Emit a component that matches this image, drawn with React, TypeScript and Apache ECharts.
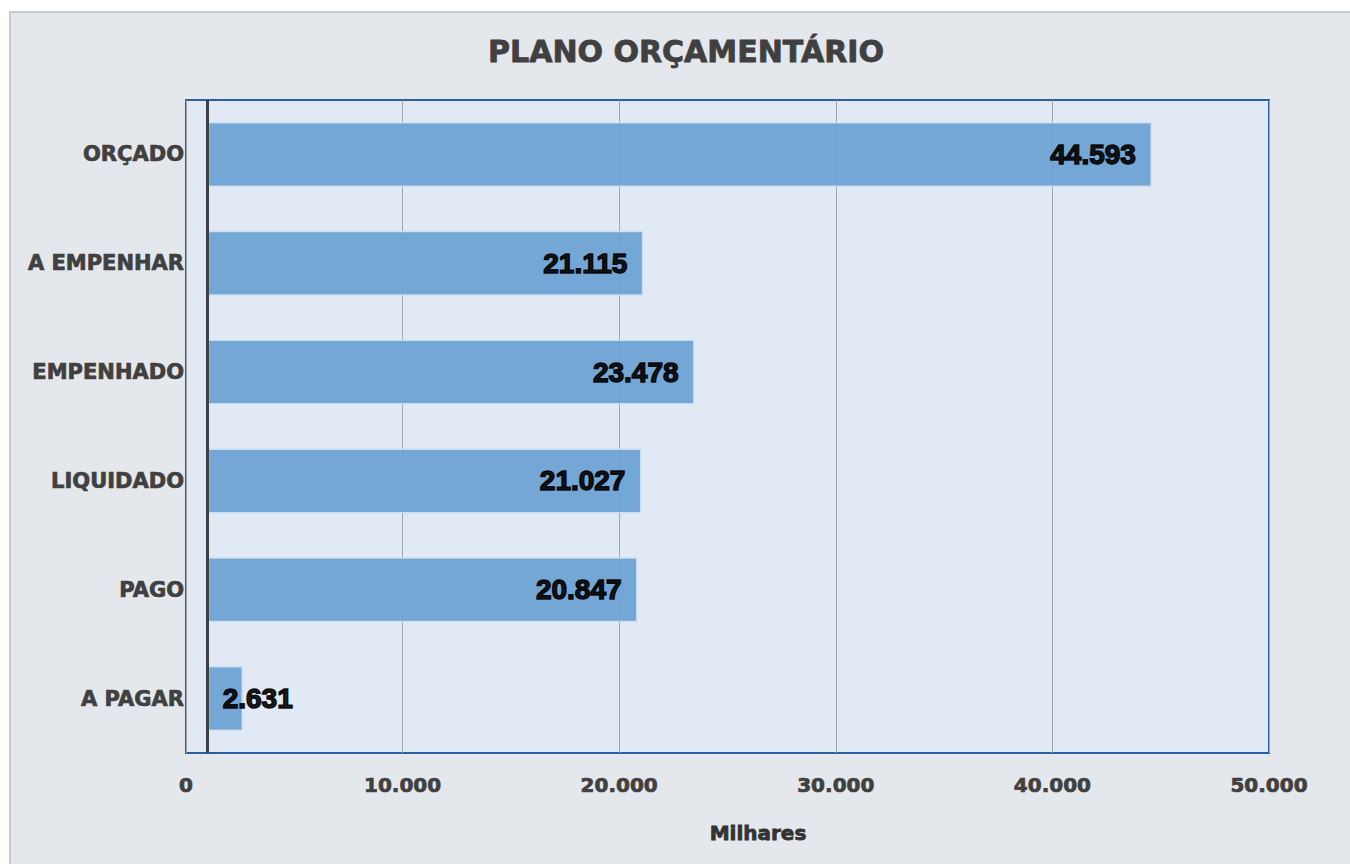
import React, { useEffect, useRef } from "react";
import * as echarts from "echarts";

const categories = ["ORÇADO", "A EMPENHAR", "EMPENHADO", "LIQUIDADO", "PAGO", "A PAGAR"];
const values = [44593, 21115, 23478, 21027, 20847, 2631];
const xTicks = [0, 10000, 20000, 30000, 40000, 50000];
const axisCross = 1000;
const title = "PLANO ORÇAMENTÁRIO";
const axisName = "Milhares";

const fmt = (v: number) => v.toLocaleString("de-DE");

export default function App() {
  const ref = useRef<HTMLDivElement>(null);
  useEffect(() => {
    if (!ref.current) return;
    const chart = echarts.init(ref.current, null, { renderer: "svg" });
    const labelFont = {
      fontFamily: "'DejaVu Sans', Verdana, sans-serif",
      fontWeight: "bold" as const,
      color: "#404040",
      textBorderColor: "#404040",
      textBorderWidth: 0.7,
    };
    chart.setOption({
      animation: false,
      backgroundColor: "transparent",
      graphic: [
        {
          type: "rect",
          z: -10,
          shape: { x: 10, y: 12, width: 1360, height: 870 },
          style: { fill: "#e4e7ec", stroke: "#c9c9c9", lineWidth: 2 },
        },
        {
          type: "text",
          x: 686,
          y: 51,
          style: {
            text: title,
            fill: "#404040",
            stroke: "#404040",
            lineWidth: 0.8,
            font: "bold 30px 'DejaVu Sans', Verdana, sans-serif",
            textAlign: "center",
            textVerticalAlign: "middle",
          },
        },
        {
          type: "text",
          x: 758,
          y: 833,
          style: {
            text: axisName,
            fill: "#333333",
            stroke: "#333333",
            lineWidth: 0.8,
            font: "bold 20px 'DejaVu Sans', Verdana, sans-serif",
            textAlign: "center",
            textVerticalAlign: "middle",
          },
        },
      ],
      grid: {
        left: 186,
        top: 100,
        width: 1083,
        height: 653,
        show: true,
        backgroundColor: "#e1eaf4",
        borderColor: "#2a5f9e",
        borderWidth: 2,
        containLabel: false,
      },
      xAxis: {
        type: "value",
        min: xTicks[0],
        max: xTicks[xTicks.length - 1],
        interval: xTicks[1] - xTicks[0],
        axisLine: { show: false },
        axisTick: { show: false },
        splitLine: { show: true, lineStyle: { color: "#a0a6ae", width: 1 } },
        axisLabel: {
          ...labelFont,
          fontSize: 20,
          margin: 22,
          formatter: (v: number) => fmt(v),
        },
      },
      yAxis: {
        type: "category",
        data: categories,
        inverse: true,
        axisLine: { show: false },
        axisTick: { show: false },
        splitLine: { show: false },
        axisLabel: { ...labelFont, fontSize: 21, margin: 2 },
      },
      series: [
        {
          type: "bar",
          stack: "s",
          silent: true,
          data: values.map(() => axisCross),
          itemStyle: { color: "transparent" },
          barWidth: 65,
          markLine: {
            silent: true,
            symbol: "none",
            label: { show: false },
            lineStyle: { color: "#404040", width: 3, type: "solid" },
            data: [{ xAxis: axisCross }],
          },
        },
        {
          type: "bar",
          stack: "s",
          barWidth: 65,
          data: values.map((v) => ({
            value: v - axisCross,
            label:
              v < 5000
                ? { position: "insideLeft", distance: 15 }
                : { position: "insideRight", distance: 16 },
          })),
          itemStyle: {
            color: "#69a0d3",
            opacity: 0.9,
            borderColor: "#cfe0f2",
            borderWidth: 1.5,
          },
          label: {
            show: true,
            formatter: (p: any) => fmt(values[p.dataIndex]),
            fontFamily: "'Liberation Sans', Arial, sans-serif",
            fontWeight: "bold",
            fontSize: 28,
            color: "#000000",
            textBorderColor: "#000000",
            textBorderWidth: 1.5,
          },
        },
      ],
    });
    return () => chart.dispose();
  }, []);
  return (
    <div
      ref={ref}
      style={{ position: "absolute", left: 0, top: 0, width: 1350, height: 864 }}
    />
  );
}
